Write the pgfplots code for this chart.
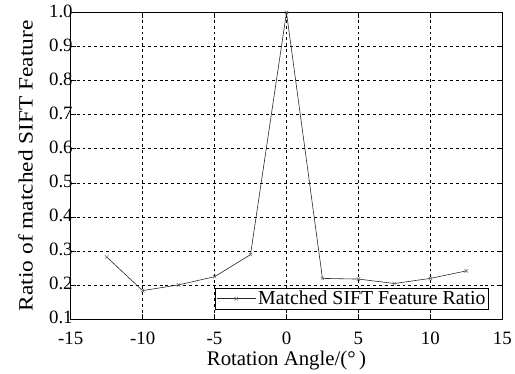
\documentclass[border=0pt]{standalone}
\usepackage{fontspec}
\setmainfont{Liberation Serif}
\usepackage{graphicx}
\usepackage{pgfplots}
\pgfplotsset{compat=1.18}
\usetikzlibrary{calc}
\begin{document}
\begin{tikzpicture}
\begin{axis}[
  scale only axis,
  width=435.4bp, height=309bp,
  xmin=-15, xmax=15, ymin=0.1, ymax=1.0,
  xtick={-15,-10,...,15},
  ytick={0.1,0.2,...,1.0},
  yticklabel style={xshift=5.5bp, yshift=1.5bp, /pgf/number format/fixed, /pgf/number format/fixed zerofill, /pgf/number format/precision=1},
  /pgf/number format/assume math mode=true,
  ticklabel style={font=\fontsize{19bp}{22bp}\selectfont},
  xticklabel style={yshift=-9.5bp},
  tick style={black, line width=0.5pt},
  major tick length=5bp,
  axis line style={black, line width=0.8pt},
  grid=major,
  grid style={black, dashed, line width=0.5pt},
  xlabel={Rotation Angle/(°\,)},
  ylabel={\scalebox{1.15}[1]{Ratio of matched SIFT Feature}},
  xlabel style={font=\fontsize{21bp}{24bp}\selectfont, at={(axis description cs:0.5,0)}, anchor=center, yshift=-42bp},
  ylabel style={font=\fontsize{20.5bp}{24bp}\selectfont, at={(axis description cs:-0.1045,0.5)}, anchor=center},
  legend style={at={(rel axis cs:0.969,0.030)}, anchor=south east,
    draw=black, line width=0.8pt, inner sep=1pt,
    font=\fontsize{20bp}{23bp}\selectfont, row sep=-2pt},
  legend cell align=left,
  legend image code/.code={\draw[#1, mark repeat=2, mark phase=2] plot coordinates {(0cm,0cm)(0.7cm,0cm)(1.4cm,0cm)};},
]
\addplot[black!85, line width=0.6pt, mark=x, mark size=2.5pt, mark options={black!60, line width=0.5pt}]
  coordinates {(-12.5,0.282) (-10,0.183) (-7.5,0.200) (-5,0.224) (-2.5,0.289) (0,1.0) (2.5,0.219) (5,0.217) (7.5,0.204) (10,0.219) (12.5,0.241)};
\addlegendentry{Matched SIFT Feature Ratio}
\end{axis}
\path[use as bounding box] ($(current axis.south west)+(-71.3bp,-54.3bp)$) rectangle ($(current axis.north east)+(8.3bp,12.7bp)$);
\end{tikzpicture}
\end{document}
